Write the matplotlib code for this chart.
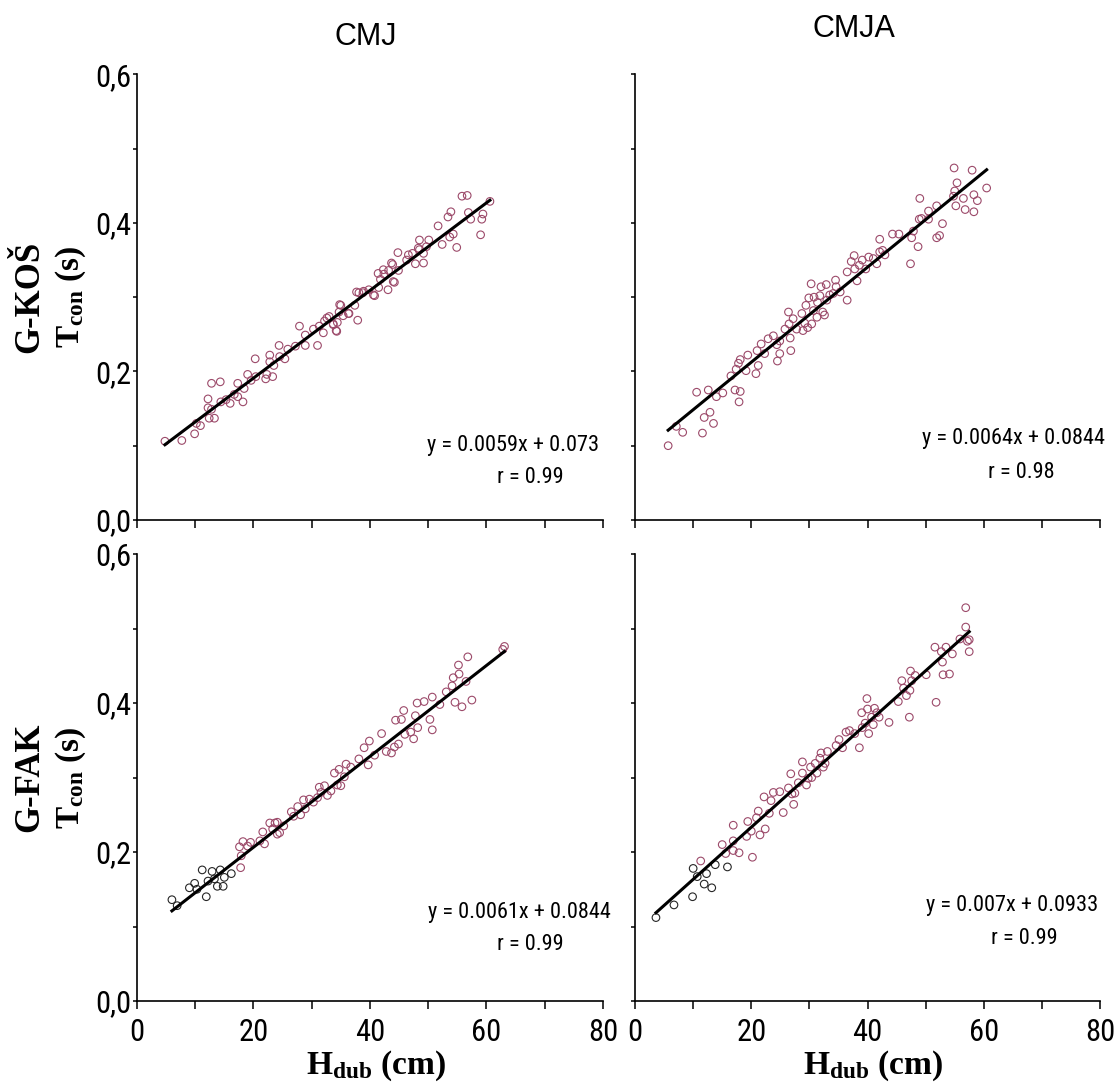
import numpy as np
import matplotlib
matplotlib.use("Agg")
from matplotlib import pyplot as plt
from matplotlib import font_manager
from matplotlib.ticker import MultipleLocator, FuncFormatter

plt.rcParams['mathtext.fontset'] = 'custom'
plt.rcParams['mathtext.rm'] = 'Liberation Serif:bold'
plt.rcParams['mathtext.bf'] = 'Liberation Serif:bold'


def have_font(name):
    try:
        font_manager.findfont(font_manager.FontProperties(family=name), fallback_to_default=False)
        return True
    except Exception:
        return False


narrow_name = None
for cand in ['Liberation Sans Narrow', 'Roboto Condensed', 'Open Sans Condensed']:
    if have_font(cand):
        narrow_name = cand
        break
if narrow_name:
    narrow = [narrow_name, 'DejaVu Sans']
    eq_size, tick_size = 16, 22
else:
    narrow = ['Liberation Sans', 'DejaVu Sans']
    eq_size, tick_size = 14, 19
serif = ['Liberation Serif', 'DejaVu Serif']

# (H_dub cm, T_con s)
cmj_kos = [(4.8, .106), (7.7, .107), (9.9, .116), (10.2, .130), (10.9, .127), (12.2, .151),
           (12.4, .137), (12.2, .163), (12.8, .184), (13.3, .137), (12.8, .149), (14.3, .186),
           (14.4, .159), (15.3, .162), (16.0, .157), (16.7, .169), (17.3, .184), (17.3, .166),
           (18.2, .159), (18.4, .177), (19.0, .196), (19.6, .188), (20.3, .217), (20.4, .193),
           (22.1, .190), (22.3, .196), (22.8, .222), (22.8, .213), (23.3, .193), (23.5, .208),
           (24.4, .235), (24.5, .220), (25.4, .217), (25.9, .230), (27.2, .234), (27.9, .261),
           (28.9, .235), (28.9, .249), (30.3, .257), (31.0, .235), (31.3, .261), (32.0, .252),
           (32.2, .268), (33.0, .274), (33.7, .264), (34.2, .255), (34.4, .266), (34.7, .280),
           (35.0, .289), (35.4, .275), (36.4, .278), (37.4, .289), (37.9, .269), (38.1, .306),
           (38.8, .306), (39.8, .310), (40.8, .302), (41.5, .313), (41.8, .324), (42.4, .331),
           (43.1, .310), (43.2, .336), (43.9, .344), (44.2, .320), (44.8, .360), (44.9, .336),
           (46.3, .350), (47.3, .359), (47.8, .345), (48.5, .364), (48.5, .377), (49.2, .346),
           (49.7, .368), (50.1, .377), (51.7, .396), (52.4, .371), (53.4, .408), (53.7, .381),
           (53.9, .415), (54.3, .385), (54.9, .367), (55.8, .436), (56.7, .437), (56.9, .414),
           (57.3, .405), (59.0, .384), (59.2, .405), (59.4, .412), (60.6, .429),
           (32.6, .272), (33.7, .263), (34.8, .290), (34.3, .254), (36.3, .278), (37.7, .307),
           (38.9, .308), (40.6, .303), (41.4, .332), (42.3, .337), (44.0, .321), (43.7, .346),
           (46.6, .357), (48.3, .366), (49.2, .359)]

cmja_kos = [(5.7, .100), (7.1, .126), (8.2, .118), (10.6, .172), (11.6, .117), (11.9, .138),
            (12.6, .175), (12.9, .145), (13.5, .130), (14.0, .166), (15.1, .171), (16.5, .194),
            (17.2, .175), (17.4, .203), (17.8, .211), (17.9, .159), (18.1, .173), (18.1, .216),
            (19.1, .201), (19.4, .222), (20.8, .197), (21.2, .208), (21.0, .228), (21.7, .237),
            (22.3, .224), (22.9, .244), (23.8, .248), (24.4, .236), (24.5, .214), (24.9, .224),
            (24.9, .241), (25.8, .257), (26.4, .280), (26.5, .264), (26.7, .245), (26.8, .228),
            (27.2, .271), (27.8, .257), (28.7, .278), (28.9, .255), (29.2, .265), (29.4, .289),
            (29.7, .259), (29.9, .299), (30.3, .318), (30.4, .264), (30.7, .282), (30.8, .300),
            (31.3, .273), (31.4, .293), (31.8, .302), (32.0, .314), (32.3, .280), (32.6, .276),
            (32.9, .317), (33.0, .296), (33.5, .303), (34.1, .305), (34.5, .323), (34.6, .314),
            (35.3, .307), (36.5, .296), (36.5, .334), (37.2, .348), (37.7, .356), (37.8, .338),
            (38.2, .322), (38.6, .343), (39.1, .350), (39.7, .338), (40.2, .354), (41.0, .352),
            (41.6, .345), (42.1, .361), (42.1, .378), (42.6, .363), (43.0, .357), (44.3, .385),
            (45.4, .385), (47.4, .345), (47.6, .380), (47.9, .389), (48.7, .368), (48.9, .405),
            (49.0, .433), (49.3, .406), (50.5, .416), (50.5, .405), (51.9, .380), (51.9, .423),
            (52.4, .383), (52.9, .399), (54.8, .436), (54.9, .474), (55.0, .443), (55.2, .423),
            (55.4, .454), (56.5, .433), (56.8, .418), (58.0, .471), (58.3, .438), (58.3, .415),
            (58.9, .430), (60.5, .447)]

# bottom row: low jumps are drawn in black in the original
cmj_fak_low = [(6.0, .136), (6.9, .128), (9.0, .152), (9.9, .158), (10.3, .150), (11.2, .176),
               (11.9, .140), (12.2, .161), (12.9, .174), (13.3, .164), (13.8, .154), (14.3, .176),
               (14.8, .154), (15.0, .166), (16.2, .171)]
cmj_fak = [(17.6, .207), (17.8, .179), (18.2, .214), (17.9, .195), (19.0, .208), (19.5, .213),
           (21.1, .215), (21.6, .227), (21.9, .211), (22.8, .239), (23.3, .231), (23.7, .239),
           (24.1, .240), (24.1, .224), (24.5, .226), (25.2, .235), (26.5, .254), (26.9, .248),
           (27.6, .261), (28.1, .250), (28.6, .270), (28.9, .258), (29.6, .271), (30.3, .267),
           (31.0, .273), (31.3, .287), (31.6, .280), (32.2, .289), (32.7, .276), (33.3, .282),
           (33.9, .306), (34.4, .290), (34.7, .311), (35.0, .289), (35.6, .301), (35.9, .318),
           (36.7, .314), (38.1, .325), (39.0, .340), (39.7, .317), (39.9, .349), (40.8, .330),
           (42.0, .359), (42.8, .335), (43.7, .333), (44.2, .341), (44.9, .345), (44.4, .377),
           (45.4, .378), (45.8, .390), (46.0, .358), (47.0, .361), (47.5, .352), (47.8, .383),
           (48.1, .400), (48.2, .367), (49.3, .402), (50.3, .378), (50.7, .408), (50.7, .364),
           (52.0, .398), (53.1, .415), (54.1, .423), (54.3, .434), (54.6, .401), (55.2, .451),
           (55.3, .439), (55.8, .395), (56.5, .429), (56.8, .462), (57.5, .404), (62.8, .472),
           (63.1, .476)]

cmja_fak_low = [(3.6, .112), (6.7, .129), (9.9, .140), (10.0, .178), (10.7, .167), (11.9, .157),
                (12.3, .171), (13.2, .152), (13.8, .183), (15.9, .180)]
cmja_fak = [(11.3, .188), (15.0, .210), (15.6, .198), (16.9, .236), (16.9, .215), (16.9, .202),
            (17.9, .199), (19.2, .221), (19.4, .241), (20.0, .228), (20.2, .193), (20.9, .246),
            (21.2, .255), (21.5, .223), (22.2, .274), (22.4, .231), (23.1, .252), (23.4, .269),
            (23.8, .280), (24.9, .281), (25.5, .253), (26.4, .286), (26.8, .305), (27.0, .278),
            (27.3, .264), (27.5, .279), (28.1, .293), (28.8, .321), (28.8, .306), (29.5, .290),
            (29.8, .299), (30.2, .314), (30.4, .300), (31.0, .319), (31.3, .306), (31.8, .326),
            (32.0, .333), (32.4, .314), (32.7, .319), (33.1, .335), (34.6, .343), (35.1, .351),
            (35.7, .340), (36.3, .361), (36.9, .363), (37.8, .359), (38.6, .340), (39.0, .387),
            (39.1, .367), (39.6, .373), (39.9, .406), (40.0, .392), (40.2, .359), (40.7, .381),
            (41.0, .371), (41.2, .393), (41.6, .387), (42.0, .381), (43.7, .374), (45.3, .402),
            (45.9, .430), (46.2, .420), (46.7, .410), (47.2, .381), (47.3, .417), (47.4, .443),
            (47.6, .430), (48.2, .437), (50.1, .438), (51.6, .475), (51.8, .401), (52.7, .469),
            (52.9, .455), (53.0, .438), (53.5, .475), (54.1, .439), (54.6, .466), (55.9, .486),
            (56.9, .528), (56.9, .502), (57.2, .483), (57.5, .485), (57.5, .469)]

slopes = [0.0059, 0.0064, 0.0061, 0.007]
intercepts = [0.073, 0.0844, 0.0844, 0.0933]
eq_texts = ["y = 0.0059x + 0.073", "y = 0.0064x + 0.0844",
            "y = 0.0061x + 0.0844", "y = 0.007x + 0.0933"]
r_texts = ["r = 0.99", "r = 0.98", "r = 0.99", "r = 0.99"]
col_titles = ["CMJ", "CMJA"]
row_labels = ["G-KOŠ", "G-FAK"]

panels = [(cmj_kos, []), (cmja_kos, []), (cmj_fak, cmj_fak_low), (cmja_fak, cmja_fak_low)]
# text anchors (x data, baseline y data) for equation and r lines
eq_pos = [(64.5, .093), (65.2, .102), (65.6, .111), (64.9, .121)]
r_pos = [(67.6, .050), (66.4, .057), (67.6, .068), (67.0, .076)]

purple = '#9c4a6a'

fig = plt.figure(figsize=(11.19, 10.83), dpi=100)
lefts = [0.1224, 0.5675]
widths = [0.4164, 0.4155]
bottoms = [0.5199, 0.0757]
heights = [0.4114, 0.4127]

comma = FuncFormatter(lambda v, p: ("%.1f" % v).replace('.', ','))

for i in range(4):
    r, c = divmod(i, 2)
    ax = fig.add_axes([lefts[c], bottoms[r], widths[c], heights[r]])
    main, low = panels[i]
    pts = np.array(main)
    ax.scatter(pts[:, 0], pts[:, 1], s=30, facecolors='none', edgecolors=purple,
               linewidths=0.8, zorder=2)
    allx = pts[:, 0]
    if low:
        lp = np.array(low)
        ax.scatter(lp[:, 0], lp[:, 1], s=30, facecolors='none', edgecolors='#262626',
                   linewidths=0.8, zorder=2)
        allx = np.concatenate([allx, lp[:, 0]])
    xs = np.array([allx.min(), allx.max()])
    ax.plot(xs, slopes[i] * xs + intercepts[i], color='black', lw=2.2, zorder=3)

    ax.text(eq_pos[i][0], eq_pos[i][1], eq_texts[i], ha='center', va='baseline',
            fontsize=eq_size, family=narrow)
    ax.text(r_pos[i][0], r_pos[i][1], r_texts[i], ha='center', va='baseline',
            fontsize=eq_size, family=narrow)

    ax.set_xlim(0, 80)
    ax.set_ylim(0, 0.6)
    for s in ['top', 'right']:
        ax.spines[s].set_visible(False)
    for s in ['left', 'bottom']:
        ax.spines[s].set_linewidth(1.2)
    ax.xaxis.set_major_locator(MultipleLocator(20))
    ax.xaxis.set_minor_locator(MultipleLocator(10))
    ax.yaxis.set_major_locator(MultipleLocator(0.2))
    ax.yaxis.set_minor_locator(MultipleLocator(0.1))
    ax.yaxis.set_major_formatter(comma)
    ax.tick_params(axis='x', which='both', direction='out', length=5.5, width=1.1)
    ax.tick_params(axis='y', which='both', direction='out', length=3, width=1.1, pad=1)
    ax.tick_params(axis='x', which='major', pad=7)
    ax.tick_params(labelsize=tick_size)
    for lab in ax.get_xticklabels() + ax.get_yticklabels():
        lab.set_family(narrow)
    if r == 0:
        ax.tick_params(axis='x', labelbottom=False)
    else:
        fig.text(lefts[c] + widths[c] / 2 + 0.005, 1 - 1066 / 1083, r'$\mathbf{H_{dub}}$ (cm)',
                 ha='center', va='center', fontsize=24, family=serif, weight='bold')
    if c == 1:
        ax.tick_params(axis='y', labelleft=False)
    else:
        yc = bottoms[r] + heights[r] / 2
        fig.text(0.027, yc, row_labels[r], rotation=90, ha='center', va='center',
                 fontsize=25, family=serif, weight='bold')
        fig.text(0.063, yc, r'$\mathbf{T_{con}}$ (s)', rotation=90, ha='center',
                 va='center', fontsize=24, family=serif, weight='bold')

fig.text(0.327, 1 - 37 / 1083, col_titles[0], ha='center', va='center', fontsize=22,
         family=['Liberation Sans', 'DejaVu Sans'])
fig.text(0.763, 1 - 29 / 1083, col_titles[1], ha='center', va='center', fontsize=22,
         family=['Liberation Sans', 'DejaVu Sans'])

fig.savefig('out.png', dpi=100)
